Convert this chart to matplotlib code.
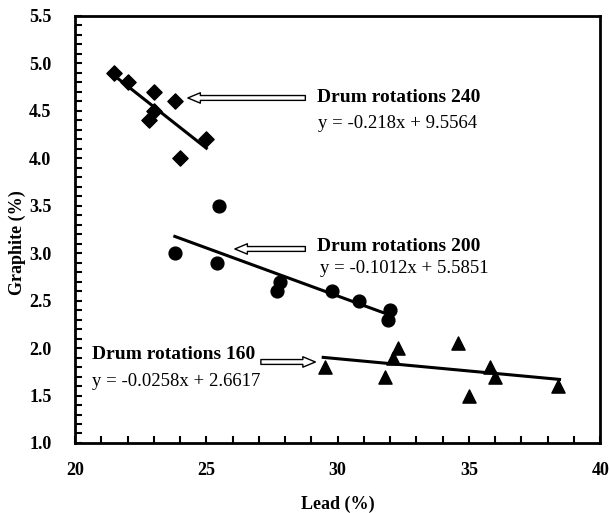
import matplotlib
matplotlib.use("Agg")
import matplotlib.pyplot as plt
import numpy as np
from matplotlib.ticker import MultipleLocator

plt.rcParams['font.family'] = ['Liberation Serif', 'DejaVu Serif']

# Data
lead_240 = [21.5, 22.0, 23.0, 23.8, 23.0, 22.8, 25.0, 24.0]
graph_240 = [4.9, 4.8, 4.7, 4.6, 4.5, 4.4, 4.2, 4.0]
lead_200 = [25.5, 23.8, 25.4, 27.8, 27.7, 29.8, 30.8, 32.0, 31.9]
graph_200 = [3.5, 3.0, 2.9, 2.7, 2.6, 2.6, 2.5, 2.4, 2.3]
lead_160 = [29.5, 31.8, 32.1, 32.3, 34.6, 35.0, 35.8, 36.0, 38.4]
graph_160 = [1.8, 1.7, 1.9, 2.0, 2.05, 1.5, 1.8, 1.7, 1.6]

fits = {
    '240': (-0.218, 9.5564, 21.4, 25.0),
    '200': (-0.1012, 5.5851, 23.8, 31.9),
    '160': (-0.0258, 2.6617, 29.45, 38.45),
}
labels = ['Drum rotations 240', 'Drum rotations 200', 'Drum rotations 160']
equations = ['y = -0.218x + 9.5564', 'y = -0.1012x + 5.5851', 'y = -0.0258x + 2.6617']

fig = plt.figure(figsize=(6.1, 5.13), dpi=100)
ax = fig.add_axes([0.123, 0.1365, 0.861, 0.8325])

ax.scatter(lead_240, graph_240, marker='D', s=60, color='black', zorder=3)
ax.scatter(lead_200, graph_200, marker='o', s=85, color='black', zorder=3)
ax.scatter(lead_160, graph_160, marker='^', s=90, color='black', zorder=3)

for key, (m, b, x0, x1) in fits.items():
    xs = np.array([x0, x1])
    ax.plot(xs, m * xs + b, color='black', lw=2.2, zorder=2)

ax.set_xlim(20, 40)
ax.set_ylim(1.0, 5.5)
ax.xaxis.set_major_locator(MultipleLocator(5))
ax.xaxis.set_minor_locator(MultipleLocator(1))
ax.yaxis.set_major_locator(MultipleLocator(0.5))
ax.yaxis.set_minor_locator(MultipleLocator(0.1))
ax.yaxis.set_major_formatter(matplotlib.ticker.FormatStrFormatter('%.1f'))
ax.tick_params(which='both', direction='in', length=5, width=1.5, labelsize=13)
ax.tick_params(axis='x', pad=14)
ax.tick_params(axis='y', pad=17)
for lab in ax.get_xticklabels() + ax.get_yticklabels():
    lab.set_fontweight('bold')
for sp in ax.spines.values():
    sp.set_linewidth(2)

ax.set_xlabel('Lead (%)', fontsize=13, fontweight='bold', labelpad=12)
ax.set_ylabel('Graphite (%)', fontsize=13, fontweight='bold')
ax.yaxis.set_label_coords(-0.093, 0.47)

arrow_kw = dict(arrowstyle='simple,head_length=0.9,head_width=0.75,tail_width=0.35',
                fc='white', ec='black', lw=1)

def px2data(px, py):
    return 20 + (px - 75) / 26.25, 1.0 + (443 - py) / 94.9

# 240
ax.text(*px2data(317, 98), labels[0], fontsize=14, fontweight='bold', va='center', ha='left')
ax.text(*px2data(318, 124), equations[0], fontsize=13.5, va='center', ha='left')
ax.annotate('', xy=px2data(185, 98), xytext=px2data(308, 98), arrowprops=arrow_kw)
# 200
ax.text(*px2data(317, 247), labels[1], fontsize=14, fontweight='bold', va='center', ha='left')
ax.text(*px2data(320, 269), equations[1], fontsize=13.5, va='center', ha='left')
ax.annotate('', xy=px2data(232, 249), xytext=px2data(308, 249), arrowprops=arrow_kw)
# 160
ax.text(*px2data(92, 355), labels[2], fontsize=14, fontweight='bold', va='center', ha='left')
ax.text(*px2data(92, 382), equations[2], fontsize=13.5, va='center', ha='left')
ax.annotate('', xy=px2data(318, 362), xytext=px2data(258, 362), arrowprops=arrow_kw)

fig.savefig('out.png', dpi=100)
